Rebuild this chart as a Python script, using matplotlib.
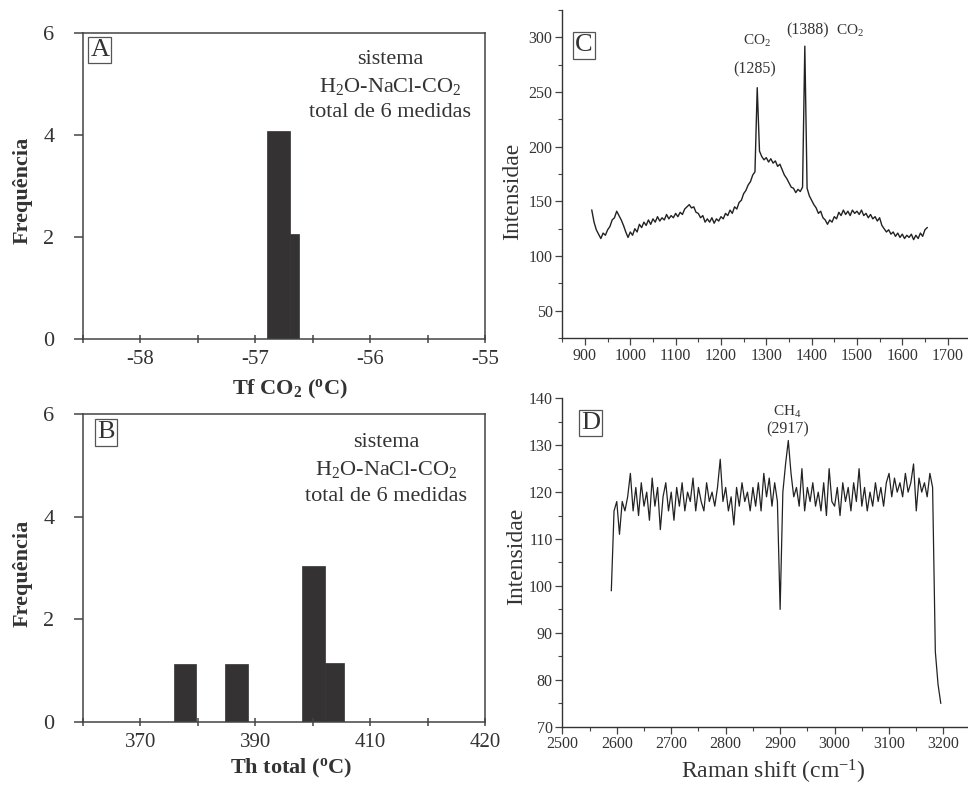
import numpy as np
import matplotlib
matplotlib.use("Agg")
import matplotlib.pyplot as plt
from matplotlib.ticker import MultipleLocator, FixedLocator, FixedFormatter

plt.rcParams['font.family'] = 'Liberation Serif'
plt.rcParams['mathtext.fontset'] = 'custom'
plt.rcParams['mathtext.rm'] = 'Liberation Serif'
plt.rcParams['mathtext.it'] = 'Liberation Serif:italic'
plt.rcParams['mathtext.bf'] = 'Liberation Serif:bold'

tc = '#333333'
plt.rcParams['text.color'] = tc
plt.rcParams['axes.labelcolor'] = tc
plt.rcParams['xtick.color'] = '#444444'
plt.rcParams['ytick.color'] = '#444444'
plt.rcParams['xtick.labelcolor'] = tc
plt.rcParams['ytick.labelcolor'] = tc

# A) Tf CO2 - histograma
tf_left = [-56.9, -56.7]
tf_width = [0.2, 0.08]
tf_freq = [4.08, 2.05]

# B) Th total - histograma
th_left = [375.8, 384.8, 398.2, 402.1]
th_width = [3.9, 3.9, 3.9, 3.4]
th_freq = [1.13, 1.13, 3.04, 1.15]
th_ticks = [360, 370, 380, 390, 400, 410, 420, 430]
th_labels = ['', '370', '', '390', '', '410', '', '420']

# C) espectro Raman CO2 (915 - 1655 cm-1, passo 5)
c_start, c_step = 915, 5
c_int = [142, 131, 124, 120, 116, 121, 119, 124, 127, 133,
         135, 141, 137, 133, 128, 122, 117, 122, 119, 125,
         122, 129, 126, 131, 128, 133, 129, 134, 131, 136,
         132, 135, 133, 138, 134, 137, 135, 139, 136, 140,
         138, 143, 145, 147, 144, 145, 140, 139, 135, 137,
         131, 134, 131, 135, 130, 134, 132, 136, 134, 139,
         137, 142, 139, 145, 143, 149, 151, 157, 160, 165,
         168, 174, 177, 254, 196, 191, 188, 190, 186, 189,
         185, 187, 182, 184, 179, 174, 171, 167, 163, 162,
         158, 161, 159, 163, 292, 162, 155, 151, 147, 144,
         139, 141, 135, 133, 129, 133, 131, 136, 134, 140,
         137, 142, 138, 141, 137, 142, 139, 141, 138, 142,
         137, 139, 135, 138, 134, 136, 132, 135, 128, 125,
         122, 124, 120, 122, 118, 121, 117, 120, 116, 119,
         117, 120, 115, 119, 116, 121, 118, 124, 126]

# D) espectro Raman CH4 (2590 - 3195 cm-1, passo 5)
d_start, d_step = 2590, 5
d_int = [99, 116, 118, 111, 118, 116, 119, 124, 116, 121,
         115, 122, 117, 120, 114, 123, 117, 121, 112, 119,
         122, 116, 120, 114, 121, 117, 122, 116, 120, 118,
         123, 116, 121, 118, 116, 122, 118, 120, 117, 121,
         127, 118, 121, 116, 119, 113, 121, 117, 122, 118,
         120, 116, 121, 117, 122, 116, 124, 119, 123, 117,
         122, 118, 95, 120, 126, 131, 124, 119, 121, 117,
         125, 116, 121, 118, 122, 117, 120, 116, 122, 115,
         125, 118, 117, 121, 115, 122, 118, 121, 116, 122,
         118, 125, 117, 121, 116, 120, 117, 122, 118, 121,
         117, 122, 124, 119, 123, 120, 122, 119, 124, 120,
         122, 126, 116, 123, 120, 122, 119, 124, 121, 86,
         79, 75]

c_x = c_start + c_step * np.arange(len(c_int))
d_x = d_start + d_step * np.arange(len(d_int))

fig = plt.figure(figsize=(9.68, 7.85), dpi=100)
axA = fig.add_axes([0.0857, 0.5682, 0.4153, 0.3898])
axB = fig.add_axes([0.0857, 0.0803, 0.4153, 0.3924])
axC = fig.add_axes([0.5809, 0.5694, 0.4191, 0.4178])
axD = fig.add_axes([0.5809, 0.0743, 0.4191, 0.4183])

bar_kw = dict(align='edge', color='#343233', edgecolor='#343233', linewidth=0.5)
box_kw = dict(boxstyle='square,pad=0.08', fc='white', ec='#555555', lw=0.9)


def hist_style(ax):
    for s in ax.spines.values():
        s.set_color('#444444')
        s.set_linewidth(1.1)
    ax.tick_params(axis='x', direction='inout', length=6, width=1.1, pad=5, labelsize=15)
    ax.tick_params(axis='y', direction='out', length=6.5, width=1.1, pad=14, labelsize=16)
    ax.set_ylim(0, 6)
    ax.set_yticks([0, 2, 4, 6])
    ax.set_ylabel('Frequência', fontsize=16, fontweight='bold')
    ax.yaxis.set_label_coords(-0.124, 0.484)


# A
axA.bar(tf_left, tf_freq, width=tf_width, **bar_kw)
hist_style(axA)
axA.set_xlim(-58.5, -55)
axA.xaxis.set_major_locator(FixedLocator([-58.5, -58, -57.5, -57, -56.5, -56, -55.5, -55]))
axA.xaxis.set_major_formatter(FixedFormatter(['', '-58', '', '-57', '', '-56', '', '-55']))
axA.set_xlabel(r'Tf CO$_\mathbf{2}$ ($^\mathbf{o}$C)', fontsize=16, fontweight='bold')
axA.xaxis.set_label_coords(0.515, -0.127)
axA.xaxis.label.set_va('top')
axA.text(0.042, 0.944, 'A', transform=axA.transAxes, fontsize=19, ha='center', va='center', bbox=box_kw)
axA.text(0.764, 0.912, 'sistema', transform=axA.transAxes, fontsize=16, ha='center', va='center')
axA.text(0.764, 0.824, r'H$_2$O-NaCl-CO$_2$', transform=axA.transAxes, fontsize=16, ha='center', va='center')
axA.text(0.764, 0.739, 'total de 6 medidas', transform=axA.transAxes, fontsize=16, ha='center', va='center')

# B
axB.bar(th_left, th_freq, width=th_width, **bar_kw)
hist_style(axB)
axB.set_xlim(360, 430)
axB.xaxis.set_major_locator(FixedLocator(th_ticks))
axB.xaxis.set_major_formatter(FixedFormatter(th_labels))
axB.set_xlabel(r'Th total ($^\mathbf{o}$C)', fontsize=16, fontweight='bold')
axB.xaxis.set_label_coords(0.517, -0.113)
axB.xaxis.label.set_va('top')
axB.text(0.058, 0.94, 'B', transform=axB.transAxes, fontsize=19, ha='center', va='center', bbox=box_kw)
axB.text(0.755, 0.908, 'sistema', transform=axB.transAxes, fontsize=16, ha='center', va='center')
axB.text(0.755, 0.818, r'H$_2$O-NaCl-CO$_2$', transform=axB.transAxes, fontsize=16, ha='center', va='center')
axB.text(0.755, 0.731, 'total de 6 medidas', transform=axB.transAxes, fontsize=16, ha='center', va='center')


def spec_style(ax):
    ax.spines['top'].set_visible(False)
    ax.spines['right'].set_visible(False)
    for s in ['left', 'bottom']:
        ax.spines[s].set_color('#333333')
        ax.spines[s].set_linewidth(1.0)
    ax.tick_params(which='major', direction='out', length=5, width=0.9, pad=2, labelsize=11.5)
    ax.tick_params(which='minor', direction='out', length=3, width=0.8)
    ax.set_ylabel('Intensidae', fontsize=17)


# C
axC.plot(c_x, c_int, color='#222222', lw=1.0)
spec_style(axC)
axC.set_xlim(850, 1745)
axC.set_ylim(25, 325)
axC.xaxis.set_major_locator(MultipleLocator(100))
axC.xaxis.set_minor_locator(MultipleLocator(50))
axC.yaxis.set_major_locator(FixedLocator([50, 100, 150, 200, 250, 300]))
axC.yaxis.set_minor_locator(MultipleLocator(25))
axC.yaxis.set_label_coords(-0.097, 0.447)
axC.text(0.053, 0.892, 'C', transform=axC.transAxes, fontsize=19, ha='center', va='center', bbox=box_kw)
axC.text(1279, 297, r'CO$_2$', fontsize=11, ha='center', va='center')
axC.text(1275, 271, '(1285)', fontsize=11.5, ha='center', va='center')
axC.text(1391, 306, '(1388)', fontsize=11.5, ha='center', va='center')
axC.text(1484, 306, r'CO$_2$', fontsize=11, ha='center', va='center')

# D
axD.plot(d_x, d_int, color='#222222', lw=0.9)
spec_style(axD)
axD.set_xlim(2500, 3245)
axD.set_ylim(70, 140)
axD.xaxis.set_major_locator(FixedLocator([2500, 2600, 2700, 2800, 2900, 3000, 3100, 3200]))
axD.xaxis.set_minor_locator(MultipleLocator(50))
axD.yaxis.set_major_locator(MultipleLocator(10))
axD.yaxis.set_minor_locator(MultipleLocator(5))
axD.yaxis.set_label_coords(-0.088, 0.518)
axD.set_xlabel(r'Raman shift (cm$^{-1}$)', fontsize=17)
axD.xaxis.set_label_coords(0.519, -0.095)
axD.xaxis.label.set_va('top')
axD.text(0.0695, 0.924, 'D', transform=axD.transAxes, fontsize=19, ha='center', va='center', bbox=box_kw)
axD.text(2913, 137.1, r'CH$_4$', fontsize=11, ha='center', va='center')
axD.text(2913, 133.3, '(2917)', fontsize=11.5, ha='center', va='center')

fig.savefig('out.png', dpi=100)
